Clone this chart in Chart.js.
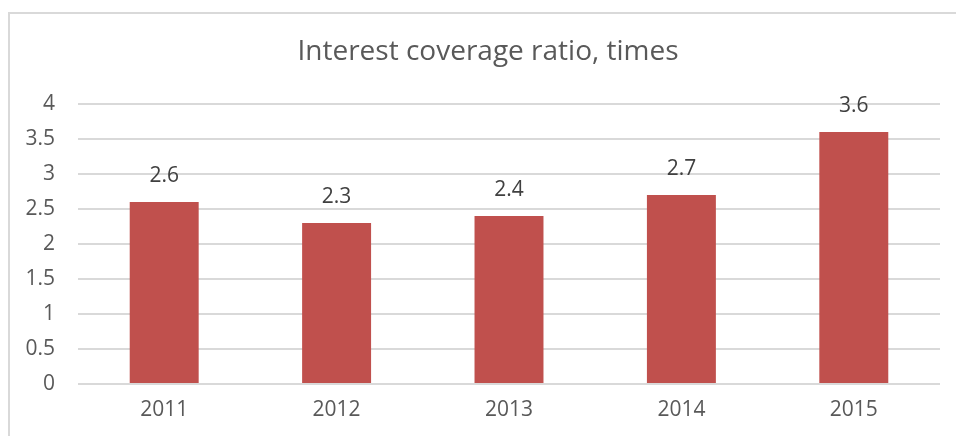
<!DOCTYPE html>
<html lang="en">
<head>
    <meta charset="UTF-8">
    <title>Interest coverage ratio, times</title>
    <script src="https://cdn.jsdelivr.net/npm/chart.js"></script>
    <style>
        html, body { margin: 0; padding: 0; background: #fff; }
        #wrap { position: relative; width: 956px; height: 436px; overflow: hidden; }
        #frame {
            position: absolute; left: 8px; top: 12px; width: 1000px; height: 500px;
            border-left: 2px solid #d9d9d9; border-top: 2px solid #d9d9d9;
            pointer-events: none;
        }
        canvas { position: absolute; left: 0; top: 0; }
    </style>
</head>
<body>
    <div id="wrap">
        <canvas id="myChart" width="956" height="436"></canvas>
        <div id="frame"></div>
    </div>

    <script>
        const chartTitle = 'Interest coverage ratio, times';
        const years = ['2011', '2012', '2013', '2014', '2015'];
        const coverage = [2.6, 2.3, 2.4, 2.7, 3.6];
        const yTicks = [0, 0.5, 1, 1.5, 2, 2.5, 3, 3.5, 4];

        const fontFamily = '"Open Sans", "Noto Sans", sans-serif';

        // Title centred on the outer frame (Excel style), not the plot area
        const frameTitle = {
            id: 'frameTitle',
            afterDraw(chart) {
                const ctx = chart.ctx;
                ctx.save();
                ctx.font = '28px ' + fontFamily;
                ctx.fillStyle = '#595959';
                ctx.textAlign = 'center';
                ctx.textBaseline = 'middle';
                ctx.fillText(chartTitle, (chart.width + 20) / 2, 52);
                ctx.restore();
            }
        };

        // Value labels above bars (no datalabels plugin offline)
        const barLabels = {
            id: 'barLabels',
            afterDatasetsDraw(chart) {
                const ctx = chart.ctx;
                const meta = chart.getDatasetMeta(0);
                ctx.save();
                ctx.font = '21px ' + fontFamily;
                ctx.fillStyle = '#404040';
                ctx.textAlign = 'center';
                ctx.textBaseline = 'middle';
                meta.data.forEach((bar, i) => {
                    ctx.fillText(String(coverage[i]), bar.x, bar.y - 26);
                });
                ctx.restore();
            }
        };

        const ctx = document.getElementById('myChart').getContext('2d');
        const chart = new Chart(ctx, {
            type: 'bar',
            data: {
                labels: years,
                datasets: [{
                    label: 'Interest coverage ratio',
                    data: coverage,
                    backgroundColor: '#c0504d',
                    borderWidth: 0,
                    categoryPercentage: 1,
                    barPercentage: 0.4
                }]
            },
            options: {
                responsive: false,
                animation: false,
                devicePixelRatio: 1,
                layout: { padding: { left: 0, right: 16, top: 104, bottom: 0 } },
                plugins: {
                    legend: { display: false },
                    tooltip: { enabled: false },
                    title: { display: false }
                },
                scales: {
                    x: {
                        grid: { display: false, drawTicks: false },
                        border: { display: false },
                        ticks: {
                            color: '#595959',
                            font: { family: fontFamily, size: 21 },
                            padding: 13
                        },
                        afterFit(scale) { scale.height = 52; }
                    },
                    y: {
                        min: 0,
                        max: 4,
                        afterBuildTicks(scale) {
                            scale.ticks = yTicks.map(v => ({ value: v }));
                        },
                        grid: { color: '#d9d9d9', lineWidth: 2, drawTicks: false },
                        border: { display: false },
                        ticks: {
                            color: '#595959',
                            font: { family: fontFamily, size: 21 },
                            padding: 23,
                            callback: v => String(v)
                        },
                        afterFit(scale) { scale.width = 78; }
                    }
                }
            },
            plugins: [barLabels, frameTitle]
        });
    </script>
</body>
</html>
